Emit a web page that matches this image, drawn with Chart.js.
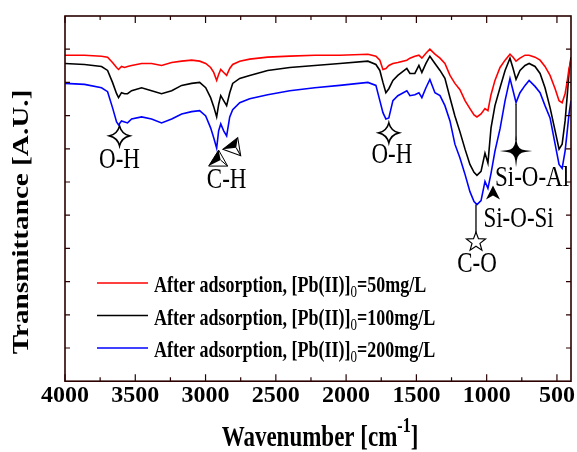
<!DOCTYPE html>
<html>
<head>
<meta charset="utf-8">
<title>FTIR spectra</title>
<script src="https://cdn.jsdelivr.net/npm/chart.js@4.4.1/dist/chart.umd.min.js"></script>
<style>
    html, body { margin: 0; padding: 0; background: #fff; }
</style>
</head>
<body>
<canvas id="ftirChart" width="577" height="452"></canvas>
<script>
const wavenumbers = [4000, 3861, 3740, 3697, 3662, 3633, 3619, 3598, 3576, 3555,
    3526, 3455, 3384, 3313, 3241, 3170, 3099, 3042, 2999, 2964,
    2942, 2921, 2907, 2892, 2871, 2850, 2828, 2807, 2757, 2686,
    2558, 2401, 2223, 2045, 1845, 1788, 1760, 1738, 1717, 1696,
    1667, 1632, 1568, 1546, 1511, 1482, 1461, 1432, 1404, 1368,
    1332, 1297, 1261, 1226, 1190, 1154, 1119, 1090, 1069, 1040,
    1012, 991, 969, 941, 905, 869, 834, 812, 791, 763,
    727, 698, 656, 620, 585, 549, 513, 485, 463, 442,
    428, 414, 400];

// transmittance (arbitrary units), [Pb(II)]0 = 50 mg/L
const trans50 = [98.2, 98.2, 97.9, 97.6, 96.0, 94.5, 93.9, 94.8, 94.5, 94.8,
    95.1, 95.7, 95.7, 95.1, 96.0, 96.4, 96.7, 96.4, 95.7, 94.5,
    93.0, 90.6, 92.4, 93.9, 93.0, 92.1, 94.2, 95.4, 96.4, 97.0,
    97.6, 97.9, 98.2, 98.2, 98.5, 97.9, 96.7, 93.9, 94.2, 95.1,
    95.7, 96.0, 96.7, 97.3, 97.9, 98.2, 97.3, 98.8, 100.0, 98.5,
    97.3, 95.7, 92.1, 89.7, 87.8, 84.5, 82.1, 80.2, 79.6, 80.5,
    82.1, 81.5, 86.3, 90.6, 94.5, 96.7, 98.5, 97.6, 96.4, 97.3,
    98.2, 98.2, 97.6, 96.7, 94.8, 92.1, 88.1, 84.5, 83.9, 86.6,
    90.0, 94.2, 96.7];

// [Pb(II)]0 = 100 mg/L
const trans100 = [95.7, 95.4, 94.8, 93.6, 90.0, 86.6, 85.4, 86.9, 86.6, 86.6,
    87.5, 88.4, 87.5, 86.6, 87.5, 89.1, 89.7, 90.0, 88.4, 85.4,
    82.7, 79.6, 83.3, 86.0, 84.5, 83.0, 86.9, 89.7, 91.2, 92.1,
    93.6, 94.5, 95.1, 95.7, 96.4, 95.4, 93.6, 90.0, 86.9, 88.1,
    90.6, 92.1, 94.2, 92.7, 92.7, 95.1, 93.0, 95.7, 97.9, 95.7,
    93.6, 91.2, 85.4, 79.9, 75.1, 69.9, 65.3, 62.9, 62.0, 63.2,
    68.7, 65.7, 76.3, 83.0, 88.4, 93.6, 97.3, 94.2, 90.9, 93.6,
    95.1, 95.7, 94.8, 92.7, 88.4, 82.4, 75.4, 69.9, 71.4, 78.4,
    85.4, 93.0, 97.6];

// [Pb(II)]0 = 200 mg/L
const trans200 = [89.7, 89.4, 88.4, 87.2, 82.4, 78.1, 77.2, 78.4, 78.1, 77.8,
    79.0, 79.6, 79.0, 77.8, 79.0, 80.5, 81.2, 81.5, 79.9, 76.3,
    73.3, 70.2, 75.4, 77.5, 75.4, 73.9, 79.6, 81.8, 83.9, 85.1,
    86.3, 87.5, 88.4, 89.1, 90.0, 89.1, 84.5, 80.9, 79.0, 79.3,
    84.5, 86.0, 87.5, 86.0, 86.3, 86.9, 85.4, 88.4, 90.9, 86.9,
    86.0, 83.0, 78.4, 71.4, 67.2, 62.3, 57.1, 54.1, 53.2, 54.4,
    60.2, 58.1, 62.6, 69.3, 76.0, 84.5, 91.2, 87.5, 83.9, 86.9,
    89.1, 90.6, 88.8, 86.9, 83.0, 79.3, 71.4, 65.3, 64.1, 69.3,
    74.8, 80.5, 84.5];

const seriesConc = ['50', '100', '200'];
const seriesColors = ['#ff0000', '#000000', '#0000ff'];

const xTickLabels = [4000, 3500, 3000, 2500, 2000, 1500, 1000, 500];
const yTickValues = [10, 20, 30, 40, 50, 60, 70, 80, 90, 100];

// band assignments: label text and where it sits (wavenumber, transmittance)
const bandLabels = ['O-H', 'C-H', 'O-H', 'C-O', 'Si-O-Si', 'Si-O-Al'];
const bandLabelWn = [3612, 2850, 1674, 1069, 773, 677];
const bandLabelY = [64.1, 58.1, 65.7, 32.8, 46.5, 58.7];

// band markers (symbol at wavenumber / transmittance, optional drop line)
const bandMarkers = [
    { shape: 'star4', wn: 3612, y: 73.9 },
    { shape: 'halfTri', wn: 2907, y: 66.9, rot: 0 },
    { shape: 'halfTri', wn: 2793, y: 70.8, rot: 20 },
    { shape: 'star4', wn: 1696, y: 74.8 },
    { shape: 'star5', wn: 1076, y: 41.9, from: 53.2, to: 44.5 },
    { shape: 'arrow', wn: 955, y: 56.5 },
    { shape: 'star4fill', wn: 791, y: 69.3, from: 83.6, to: 72.6 }
];

const serif = "'Liberation Serif', 'Times New Roman', serif";
const frameColor = '#2a0000';

function toPoints(values) {
    return wavenumbers.map((w, i) => ({ x: w, y: values[i] }));
}

// draws a row of text pieces, optionally stretched vertically
function drawRich(ctx, parts, x, y, sy, align) {
    ctx.save();
    let total = 0;
    parts.forEach(p => {
        ctx.font = p.font;
        p.w = ctx.measureText(p.text).width;
        total += p.w;
    });
    ctx.translate(x, y);
    ctx.scale(1, sy);
    ctx.textAlign = 'left';
    ctx.textBaseline = 'alphabetic';
    ctx.fillStyle = '#000';
    let cx = align === 'left' ? 0 : -total / 2;
    parts.forEach(p => {
        ctx.font = p.font;
        ctx.fillText(p.text, cx, p.dy || 0);
        cx += p.w;
    });
    ctx.restore();
}

function star4(ctx, cx, cy, r, filled) {
    const k = filled ? 0.1 * r : 0.2 * r;
    ctx.beginPath();
    ctx.moveTo(cx, cy - r);
    ctx.quadraticCurveTo(cx + k, cy - k, cx + r, cy);
    ctx.quadraticCurveTo(cx + k, cy + k, cx, cy + r);
    ctx.quadraticCurveTo(cx - k, cy + k, cx - r, cy);
    ctx.quadraticCurveTo(cx - k, cy - k, cx, cy - r);
    ctx.closePath();
    ctx.fillStyle = filled ? '#000' : '#fff';
    ctx.fill();
    ctx.lineWidth = 1.6;
    ctx.strokeStyle = '#000';
    ctx.stroke();
}

function star5(ctx, cx, cy, r) {
    ctx.beginPath();
    for (let i = 0; i < 10; i++) {
        const rr = i % 2 === 0 ? r : r * 0.42;
        const a = -Math.PI / 2 + i * Math.PI / 5;
        const px = cx + rr * Math.cos(a), py = cy + rr * Math.sin(a);
        if (i === 0) ctx.moveTo(px, py); else ctx.lineTo(px, py);
    }
    ctx.closePath();
    ctx.fillStyle = '#fff';
    ctx.fill();
    ctx.lineWidth = 1.2;
    ctx.strokeStyle = '#000';
    ctx.stroke();
}

function halfTri(ctx, cx, cy, rot) {
    ctx.save();
    ctx.translate(cx, cy);
    ctx.rotate(rot * Math.PI / 180);
    ctx.beginPath();
    ctx.moveTo(0, -9);
    ctx.lineTo(9, 7);
    ctx.lineTo(-10, 7);
    ctx.closePath();
    ctx.fillStyle = '#fff';
    ctx.fill();
    ctx.lineWidth = 1;
    ctx.strokeStyle = '#000';
    ctx.stroke();
    ctx.beginPath();
    ctx.moveTo(0, -9);
    ctx.lineTo(-10, 7);
    ctx.lineTo(2, 1);
    ctx.closePath();
    ctx.fillStyle = '#000';
    ctx.fill();
    ctx.beginPath();
    ctx.moveTo(2, 1);
    ctx.lineTo(9, 7);
    ctx.stroke();
    ctx.restore();
}

function arrowHead(ctx, cx, cy) {
    ctx.beginPath();
    ctx.moveTo(cx, cy - 8);
    ctx.lineTo(cx + 7, cy + 6);
    ctx.lineTo(cx, cy + 2);
    ctx.lineTo(cx - 7, cy + 6);
    ctx.closePath();
    ctx.fillStyle = '#000';
    ctx.fill();
}

const decorPlugin = {
    id: 'decor',
    afterDatasetsDraw(chart) {
        const ctx = chart.ctx;
        const xs = chart.scales.x;
        const ys = chart.scales.y;
        const a = chart.chartArea;

        // frame
        ctx.save();
        ctx.strokeStyle = frameColor;
        ctx.lineWidth = 1.6;
        ctx.strokeRect(a.left, a.top, a.right - a.left, a.bottom - a.top);

        // inward ticks, major every 500 and minor in between
        ctx.lineWidth = 1.2;
        ctx.beginPath();
        xTickLabels.forEach(v => {
            const px = xs.getPixelForValue(v);
            ctx.moveTo(px, a.bottom); ctx.lineTo(px, a.bottom - 7);
            ctx.moveTo(px, a.top); ctx.lineTo(px, a.top + 7);
            const m = v - 250;
            if (m >= xs.min) {
                const pm = xs.getPixelForValue(m);
                ctx.moveTo(pm, a.bottom); ctx.lineTo(pm, a.bottom - 4);
                ctx.moveTo(pm, a.top); ctx.lineTo(pm, a.top + 4);
            }
        });
        yTickValues.forEach(v => {
            const py = ys.getPixelForValue(v);
            ctx.moveTo(a.left, py); ctx.lineTo(a.left + 5, py);
            ctx.moveTo(a.right, py); ctx.lineTo(a.right - 5, py);
        });
        ctx.stroke();
        ctx.restore();

        // band markers and drop lines
        ctx.save();
        bandMarkers.forEach(m => {
            const px = xs.getPixelForValue(m.wn);
            const py = ys.getPixelForValue(m.y);
            if (m.from !== undefined) {
                ctx.beginPath();
                ctx.moveTo(px, ys.getPixelForValue(m.from));
                ctx.lineTo(px, ys.getPixelForValue(m.to));
                ctx.lineWidth = 1.3;
                ctx.strokeStyle = '#000';
                ctx.stroke();
            }
            if (m.shape === 'star4') star4(ctx, px, py, 10, false);
            if (m.shape === 'star4fill') star4(ctx, px, py, 9, true);
            if (m.shape === 'star5') star5(ctx, px, py, 10);
            if (m.shape === 'halfTri') halfTri(ctx, px, py, m.rot);
            if (m.shape === 'arrow') arrowHead(ctx, px, py);
        });
        ctx.restore();

        // band labels
        bandLabels.forEach((t, i) => {
            drawRich(ctx, [{ text: t, font: '23px ' + serif }],
                xs.getPixelForValue(bandLabelWn[i]), ys.getPixelForValue(bandLabelY[i]), 1.25, 'center');
        });

        // legend
        ctx.save();
        seriesConc.forEach((c, i) => {
            const rowY = 283 + i * 32.5;
            ctx.beginPath();
            ctx.moveTo(97, rowY);
            ctx.lineTo(148, rowY);
            ctx.strokeStyle = seriesColors[i];
            ctx.lineWidth = 1.5;
            ctx.stroke();
            drawRich(ctx, [
                { text: 'After adsorption, [Pb(II)]', font: 'bold 18px ' + serif },
                { text: '0', font: '13px ' + serif, dy: 4 },
                { text: '=' + c + 'mg/L', font: 'bold 18px ' + serif }
            ], 154, rowY + 9, 1.25, 'left');
        });
        ctx.restore();

        // axis titles
        drawRich(ctx, [
            { text: 'Wavenumber [cm', font: 'bold 23px ' + serif },
            { text: '-1', font: 'bold 16px ' + serif, dy: -11 },
            { text: ']', font: 'bold 23px ' + serif }
        ], 320, 446, 1.28, 'center');

        ctx.save();
        ctx.translate(22, 222);
        ctx.rotate(-Math.PI / 2);
        ctx.scale(1.27, 1);
        ctx.font = 'bold 23px ' + serif;
        ctx.textAlign = 'center';
        ctx.textBaseline = 'middle';
        ctx.fillStyle = '#000';
        ctx.fillText('Transmittance [A.U.]', 0, 0);
        ctx.restore();
    }
};

const datasets = [trans50, trans100, trans200].map((vals, i) => ({
    label: 'After adsorption, [Pb(II)]0=' + seriesConc[i] + 'mg/L',
    data: toPoints(vals),
    borderColor: seriesColors[i],
    borderWidth: 1.6,
    pointRadius: 0,
    tension: 0,
    fill: false
}));

new Chart(document.getElementById('ftirChart'), {
    type: 'line',
    data: { datasets: datasets },
    options: {
        responsive: false,
        animation: false,
        layout: { padding: { left: 65, right: 6, top: 16, bottom: 42 } },
        plugins: {
            legend: { display: false },
            tooltip: { enabled: false }
        },
        scales: {
            x: {
                type: 'linear',
                reverse: true,
                min: 400,
                max: 4000,
                grid: { display: false, drawTicks: false },
                border: { display: false },
                afterBuildTicks: axis => {
                    axis.ticks = xTickLabels.map(v => ({ value: v }));
                },
                ticks: {
                    autoSkip: false,
                    maxRotation: 0,
                    padding: 0,
                    color: '#000',
                    font: { family: serif, size: 24, weight: 'bold' },
                    callback: v => String(v)
                }
            },
            y: {
                display: false,
                min: 0,
                max: 110
            }
        }
    },
    plugins: [decorPlugin]
});
</script>
</body>
</html>
